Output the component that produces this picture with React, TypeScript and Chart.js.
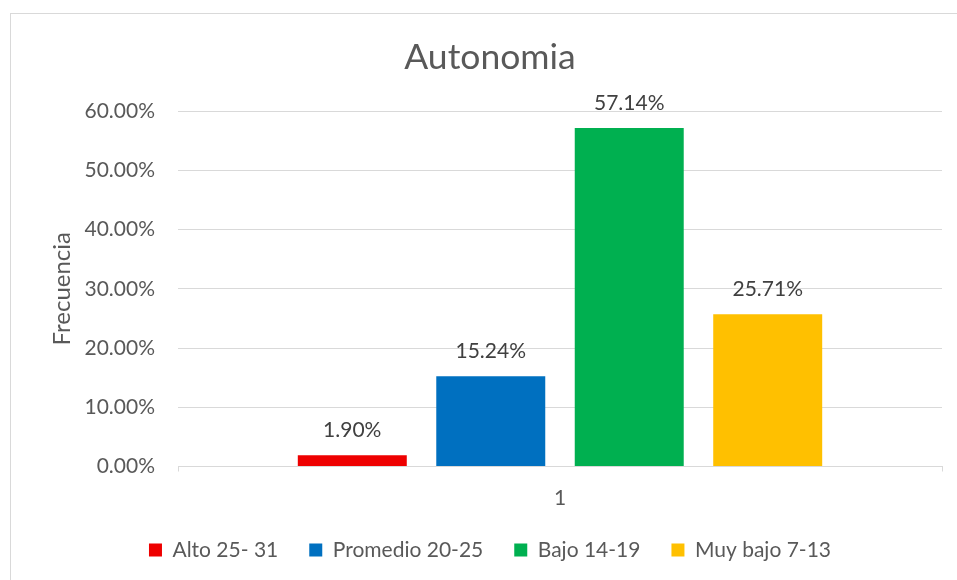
import React, { useEffect, useRef } from "react";
import { Chart, registerables } from "chart.js";

Chart.register(...registerables);

const categories = ["1"];
const seriesNames = ["Alto 25- 31", "Promedio 20-25", "Bajo 14-19", "Muy bajo 7-13"];
const seriesValues = [0.019, 0.1524, 0.5714, 0.2571];
const seriesColors = ["#EE0000", "#0070C0", "#00B050", "#FFC000"];
const yTicks = [0, 0.1, 0.2, 0.3, 0.4, 0.5, 0.6];

const FONT = "Lato, 'Open Sans', sans-serif";
const TEXT = "#595959";
const GRID = "#d9d9d9";

const pct = (v: number) => (v * 100).toFixed(2) + "%";

const dataLabels = {
  id: "dataLabels",
  afterDatasetsDraw(chart: any) {
    const ctx = chart.ctx;
    ctx.save();
    ctx.font = `21px ${FONT}`;
    ctx.fillStyle = "#404040";
    ctx.textAlign = "center";
    ctx.textBaseline = "middle";
    chart.data.datasets.forEach((ds: any, i: number) => {
      const meta = chart.getDatasetMeta(i);
      meta.data.forEach((bar: any, j: number) => {
        ctx.fillText(pct(ds.data[j]), bar.x, bar.y - 25);
      });
    });
    ctx.restore();
  },
};

export default function App() {
  const ref = useRef<HTMLCanvasElement>(null);
  useEffect(() => {
    if (!ref.current) return;
    const chart = new Chart(ref.current, {
      type: "bar",
      data: {
        labels: categories,
        datasets: seriesNames.map((name, i) => ({
          label: name,
          data: [seriesValues[i]],
          backgroundColor: seriesColors[i],
          borderWidth: 0,
          categoryPercentage: 0.725,
          barPercentage: 0.787,
        })),
      },
      options: {
        responsive: false,
        animation: false,
        layout: { padding: { left: 28, right: 28, top: 0, bottom: 12.5 } },
        plugins: {
          tooltip: { enabled: false },
          title: {
            display: true,
            text: "Autonomia",
            color: TEXT,
            font: { family: FONT, size: 35.5, weight: "normal" },
            padding: { top: 23.7, bottom: 31.7 },
          },
          legend: {
            position: "bottom",
            labels: {
              color: TEXT,
              font: { family: FONT, size: 21 },
              boxWidth: 13,
              boxHeight: 13,
              padding: 31,
            },
          },
        },
        scales: {
          x: {
            grid: {
              drawOnChartArea: false,
              drawTicks: true,
              tickLength: 5,
              color: GRID,
            },
            border: { display: true, color: GRID },
            ticks: { color: TEXT, font: { family: FONT, size: 21 }, padding: 14 },
            afterFit: (axis: any) => {
              axis.height = 42;
            },
          },
          y: {
            min: 0,
            max: 0.6,
            afterBuildTicks: (axis: any) => {
              axis.ticks = yTicks.map((v) => ({ value: v }));
            },
            grid: { color: GRID, drawTicks: false },
            border: { display: false },
            ticks: {
              color: TEXT,
              font: { family: FONT, size: 21 },
              padding: 23,
              callback: (v: any) => pct(Number(v)),
            },
            title: {
              display: true,
              text: "Frecuencia",
              color: TEXT,
              font: { family: FONT, size: 24 },
              padding: { top: 10, bottom: 0 },
            },
            afterFit: (axis: any) => {
              axis.width = 140;
            },
          },
        },
      },
      plugins: [dataLabels],
    } as any);
    return () => chart.destroy();
  }, []);

  return (
    <div
      style={{
        position: "fixed",
        left: 0,
        top: 0,
        width: 957,
        height: 580,
        overflow: "hidden",
        background: "#fff",
      }}
    >
      <div
        style={{
          position: "absolute",
          left: 10,
          top: 13,
          width: 970,
          height: 600,
          border: "1px solid #d9d9d9",
          boxSizing: "border-box",
        }}
      />
      <canvas
        ref={ref}
        width={960}
        height={570}
        style={{ position: "absolute", left: 10, top: 13, width: 960, height: 570 }}
      />
    </div>
  );
}
